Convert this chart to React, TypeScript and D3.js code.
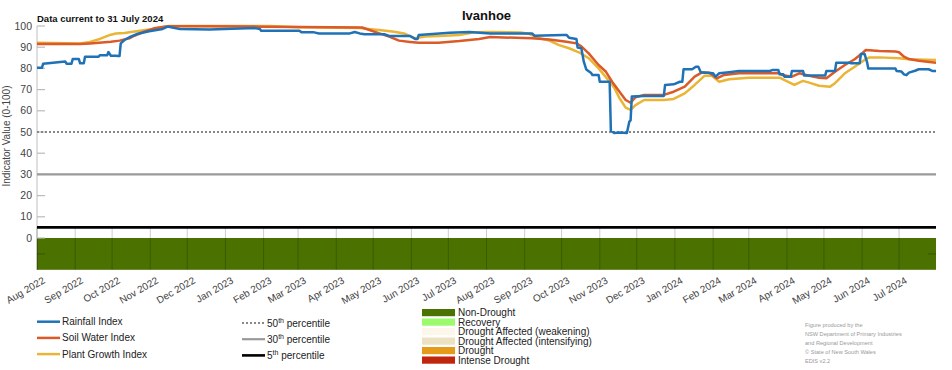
import React from "react";
import * as d3 from "d3";

const title = "Ivanhoe";
const subtitle = "Data current to 31 July 2024";
const yLabel = "Indicator Value (0-100)";
const yTicks = [0, 10, 20, 30, 40, 50, 60, 70, 80, 90, 100];

const rainDates = ["2022-08-01","2022-08-05","2022-08-06","2022-08-16","2022-08-24","2022-08-25","2022-08-29","2022-08-30","2022-09-04","2022-09-05","2022-09-08","2022-09-09","2022-09-20","2022-09-21","2022-09-27","2022-09-28","2022-09-30","2022-10-04","2022-10-06","2022-10-07","2022-10-08","2022-10-11","2022-10-15","2022-10-21","2022-10-31","2022-11-11","2022-11-15","2022-11-25","2022-12-19","2023-01-25","2023-01-29","2023-01-30","2023-03-02","2023-03-04","2023-03-14","2023-03-18","2023-04-12","2023-04-16","2023-04-20","2023-04-24","2023-05-10","2023-05-14","2023-05-31","2023-06-04","2023-06-06","2023-06-07","2023-07-02","2023-07-18","2023-08-04","2023-09-07","2023-09-09","2023-10-02","2023-10-05","2023-10-07","2023-10-13","2023-10-14","2023-10-17","2023-10-19","2023-10-21","2023-10-25","2023-10-26","2023-10-31","2023-11-01","2023-11-09","2023-11-10","2023-11-13","2023-11-17","2023-11-23","2023-11-25","2023-11-26","2023-11-27","2023-12-07","2023-12-23","2023-12-24","2023-12-31","2024-01-05","2024-01-07","2024-01-08","2024-01-15","2024-01-18","2024-01-20","2024-01-22","2024-02-01","2024-02-03","2024-02-06","2024-02-14","2024-02-22","2024-03-18","2024-03-20","2024-03-25","2024-03-26","2024-03-29","2024-03-30","2024-04-04","2024-04-05","2024-04-14","2024-04-15","2024-05-02","2024-05-03","2024-05-10","2024-05-11","2024-05-22","2024-05-23","2024-05-30","2024-05-31","2024-06-03","2024-06-05","2024-06-06","2024-06-28","2024-06-29","2024-07-03","2024-07-05","2024-07-07","2024-07-09","2024-07-14","2024-07-17","2024-07-25","2024-07-28","2024-07-31"];
const rainValues = [80.3,80.3,82.2,82.8,83.2,82.2,82.2,84.4,84.4,82.4,82.4,85.5,85.5,86.2,86.2,87.7,86.0,86.0,85.8,85.8,91.8,93.4,94.7,96.2,97.5,98.6,99.7,98.6,98.3,99.0,98.6,97.8,97.8,97.0,97.0,96.5,96.5,97.2,96.5,96.1,96.1,95.3,95.3,93.9,93.9,95.8,96.8,97.2,96.5,96.5,95.4,95.8,95.8,94.5,93.9,89.8,89.5,83.2,79.5,77.8,76.9,76.9,73.7,73.7,50.5,49.5,49.8,49.5,54.9,55.5,66.7,67.0,67.0,72.2,72.5,73.7,73.7,79.6,79.6,80.8,80.8,78.2,77.7,76.1,77.7,78.2,78.8,78.8,79.2,79.2,77.2,77.2,76.1,76.1,78.8,78.8,76.6,76.6,78.8,78.8,82.7,82.7,82.4,82.4,86.8,86.8,83.0,80.0,80.0,78.8,78.5,77.2,76.8,78.0,78.9,79.6,79.6,78.8,78.8];

const soilDates = ["2022-08-01","2022-09-05","2022-09-13","2022-09-30","2022-10-07","2022-10-15","2022-10-19","2022-10-27","2022-11-04","2022-11-16","2022-12-11","2023-01-29","2023-03-02","2023-04-22","2023-04-28","2023-05-06","2023-05-14","2023-05-22","2023-05-31","2023-06-07","2023-06-23","2023-07-10","2023-07-26","2023-08-04","2023-09-07","2023-09-21","2023-10-05","2023-10-13","2023-10-17","2023-10-23","2023-10-31","2023-11-06","2023-11-11","2023-11-17","2023-11-22","2023-11-26","2023-11-30","2023-12-07","2023-12-23","2023-12-31","2024-01-09","2024-01-17","2024-01-23","2024-01-29","2024-02-04","2024-02-10","2024-02-22","2024-03-26","2024-03-28","2024-04-05","2024-04-11","2024-04-19","2024-04-27","2024-05-03","2024-05-10","2024-05-18","2024-05-26","2024-06-01","2024-06-04","2024-06-15","2024-06-28","2024-07-01","2024-07-05","2024-07-09","2024-07-17","2024-07-31"];
const soilValues = [91.5,91.5,91.8,92.6,93.1,94.2,95.4,97.3,98.9,99.9,99.9,99.7,99.5,99.3,98.1,96.5,95.0,93.1,92.5,92.1,92.1,92.9,93.9,94.8,94.2,93.6,92.6,91.8,90.4,87.1,81.6,78.4,73.7,69.0,65.1,63.8,66.4,67.5,67.5,69.0,71.4,76.1,78.1,77.9,75.3,76.9,77.7,77.7,76.9,76.1,77.7,76.5,75.6,75.3,78.4,81.6,84.3,87.1,88.7,88.2,88.0,87.6,85.5,84.4,83.6,82.7];

const plantDates = ["2022-08-01","2022-09-05","2022-09-13","2022-09-21","2022-09-30","2022-10-04","2022-10-11","2022-10-18","2022-10-31","2022-11-11","2022-11-16","2023-02-06","2023-03-02","2023-04-20","2023-05-06","2023-05-18","2023-05-26","2023-06-04","2023-06-12","2023-06-24","2023-07-10","2023-07-22","2023-08-04","2023-08-29","2023-09-05","2023-09-13","2023-09-21","2023-09-29","2023-10-07","2023-10-15","2023-10-23","2023-10-31","2023-11-09","2023-11-13","2023-11-17","2023-11-22","2023-11-26","2023-11-30","2023-12-07","2023-12-23","2023-12-31","2024-01-09","2024-01-17","2024-01-25","2024-01-31","2024-02-06","2024-02-14","2024-03-01","2024-03-26","2024-03-30","2024-04-07","2024-04-14","2024-04-19","2024-04-27","2024-05-06","2024-05-10","2024-05-18","2024-05-26","2024-06-03","2024-06-07","2024-06-15","2024-07-01","2024-07-09","2024-07-31"];
const plantValues = [92.1,91.8,92.5,93.9,95.9,96.5,96.7,97.3,98.3,99.5,100,100,99.4,99.0,98.1,97.3,96.5,94.2,95.0,95.3,95.8,97.0,97.2,96.9,96.2,94.2,93.1,91.0,89.5,87.6,84.8,80.0,73.7,70.6,65.9,61.5,60.4,62.7,65.1,65.1,65.6,68.2,72.2,76.5,76.5,73.7,74.9,75.6,75.6,74.5,72.2,74.1,73.3,71.8,71.4,73.0,77.7,80.8,84.0,85.2,85.2,84.8,84.3,84.0];

const seriesNames = ["Rainfall Index", "Soil Water Index", "Plant Growth Index"];
const seriesColors = ["#1f72b6", "#dc5a27", "#eab435"];
const percentileNames = ["50", "30", "5"];
const percentileValues = [50, 30, 5];
const droughtNames = ["Non-Drought", "Recovery", "Drought Affected (weakening)", "Drought Affected (intensifying)", "Drought", "Intense Drought"];
const droughtColors = ["#4b7100", "#9cfb6c", "#fdf6ea", "#ece2c2", "#e59a1a", "#bf260c"];
const creditLines = ["Figure produced by the", "NSW Department of Primary Industries", "and Regional Development", "\u00a9 State of New South Wales", "EDIS v2.2"];

const FONT = "'Liberation Sans', Arial, sans-serif";

export default function App() {
  const parse = d3.timeParse("%Y-%m-%d");
  const x = d3.scaleTime().domain([new Date(2022, 7, 1), new Date(2024, 6, 31)]).range([37, 936]);
  const y = d3.scaleLinear().domain([0, 100]).range([238, 26]);
  const months = d3.timeMonth.range(new Date(2022, 7, 1), new Date(2024, 7, 1));
  const fmt = d3.timeFormat("%b %Y");
  const line = d3.line<[Date, number]>().x((d) => x(d[0])).y((d) => y(d[1]));
  const mk = (ds: string[], vs: number[]) => ds.map((d, i) => [parse(d) as Date, vs[i]] as [Date, number]);
  const series = [mk(rainDates, rainValues), mk(soilDates, soilValues), mk(plantDates, plantValues)];
  const bandBottom = y(-15);
  const stripTop = y(5);
  const pctStyles = [
    { stroke: "#888", width: 2, dash: "2,2" },
    { stroke: "#999", width: 2.2, dash: "" },
    { stroke: "#000", width: 2.6, dash: "" },
  ];
  const drawOrder = [2, 1, 0];

  return (
    <svg width={952} height={370} style={{ display: "block", position: "absolute", left: 0, top: 0, background: "#fff" }} fontFamily={FONT}>
      <rect x={0} y={0} width={952} height={370} fill="#fff" />
      {/* drought band */}
      <rect x={x.range()[0]} y={y(0)} width={x.range()[1] - x.range()[0]} height={bandBottom - y(0)} fill={droughtColors[0]} />
      {months.map((m, i) => (
        <line key={"g" + i} x1={x(m)} x2={x(m)} y1={stripTop} y2={bandBottom} stroke="#000" strokeOpacity={0.2} strokeWidth={1} />
      ))}
      <line x1={37} x2={45} y1={(y(0) + bandBottom) / 2} y2={(y(0) + bandBottom) / 2} stroke="#000" strokeOpacity={0.25} />
      <line x1={928} x2={936} y1={(y(0) + bandBottom) / 2} y2={(y(0) + bandBottom) / 2} stroke="#000" strokeOpacity={0.25} />
      {/* y axis */}
      <line x1={37} x2={37} y1={y(100)} y2={bandBottom} stroke="#000" strokeOpacity={0.25} />
      {yTicks.map((t) => (
        <g key={"t" + t}>
          <line x1={37} x2={45} y1={y(t)} y2={y(t)} stroke="#bbb" strokeWidth={1.2} />
          <text x={32} y={y(t)} dy="0.35em" textAnchor="end" fontSize={10.5} fill="#444">{t}</text>
        </g>
      ))}
      <text transform={`translate(10,${(y(0) + y(100)) / 2 + 4}) rotate(-90)`} textAnchor="middle" fontSize={10} fill="#444">{yLabel}</text>
      {/* percentile lines */}
      {percentileValues.map((p, i) => (
        <line key={"p" + i} x1={37} x2={936} y1={y(p)} y2={y(p)} stroke={pctStyles[i].stroke} strokeWidth={pctStyles[i].width} strokeDasharray={pctStyles[i].dash || undefined} />
      ))}
      {/* x labels */}
      {months.map((m, i) => (
        <text key={"xl" + i} transform={`translate(${x(m) + 5},${276}) rotate(-30)`} textAnchor="end" dy="0.75em" fontSize={10} fill="#444">{fmt(m)}</text>
      ))}
      {/* series */}
      {drawOrder.map((k) => (
        <path key={"s" + k} d={line(series[k]) || ""} fill="none" stroke={seriesColors[k]} strokeWidth={2.5} strokeLinejoin="round" />
      ))}
      {/* titles */}
      <text x={(x.range()[0] + x.range()[1]) / 2} y={19.5} textAnchor="middle" fontSize={13} fontWeight="bold" fill="#111">{title}</text>
      <text x={37} y={21.5} fontSize={9.5} fontWeight="bold" fill="#111">{subtitle}</text>
      {/* series legend */}
      {seriesNames.map((n, i) => (
        <g key={"ls" + i}>
          <line x1={37} x2={60} y1={321.7 + i * 16.2} y2={321.7 + i * 16.2} stroke={seriesColors[i]} strokeWidth={2.5} />
          <text x={62} y={321.7 + i * 16.2 + 3.5} fontSize={10} fill="#222">{n}</text>
        </g>
      ))}
      {/* percentile legend */}
      {percentileNames.map((n, i) => (
        <g key={"lp" + i}>
          <line x1={242} x2={265} y1={323 + i * 16.2} y2={323 + i * 16.2} stroke={pctStyles[i].stroke} strokeWidth={pctStyles[i].width} strokeDasharray={pctStyles[i].dash || undefined} />
          <text x={267} y={323 + i * 16.2 + 4} fontSize={10} fill="#222">
            {n}
            <tspan fontSize={7} dy={-4}>th</tspan>
            <tspan dy={4}> percentile</tspan>
          </text>
        </g>
      ))}
      {/* drought legend */}
      {droughtNames.map((n, i) => (
        <g key={"ld" + i}>
          <rect x={422} y={309 + i * 9.5} width={33} height={7.2} fill={droughtColors[i]} />
          <text x={458} y={309 + i * 9.5 + 7} fontSize={10} fill="#222">{n}</text>
        </g>
      ))}
      {/* credits */}
      {creditLines.map((c, i) => (
        <text key={"c" + i} x={805} y={327 + i * 9.1} fontSize={5.6} fill="#999">{c}</text>
      ))}
    </svg>
  );
}
